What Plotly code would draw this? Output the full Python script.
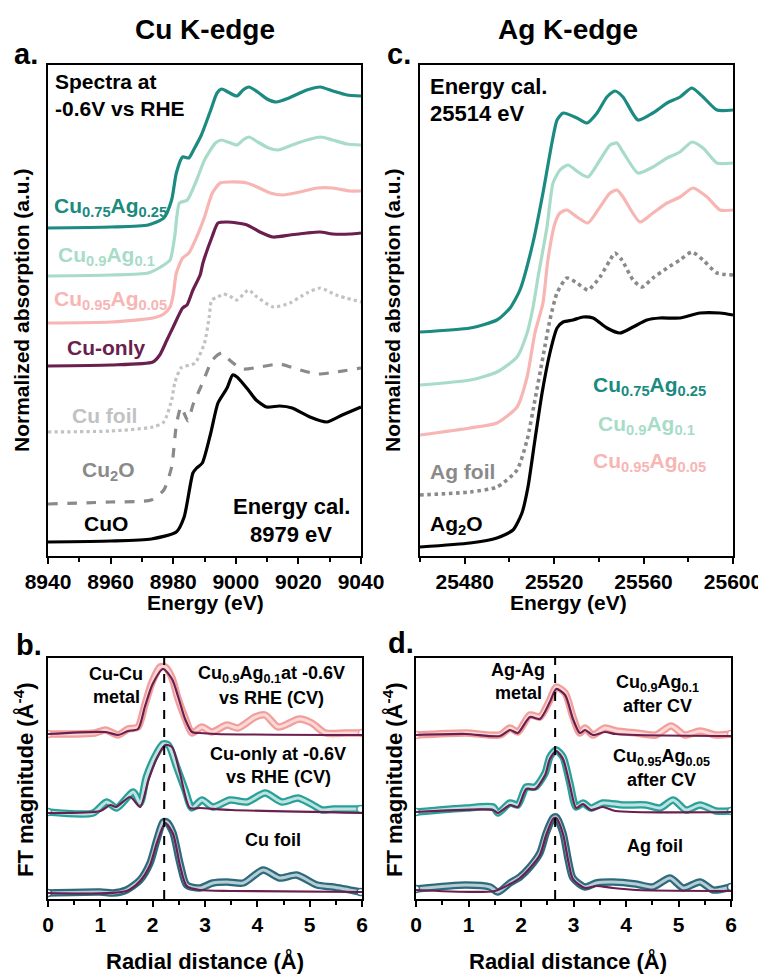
import plotly.graph_objects as go

W, H = 766, 974
OFF_X, OFF_Y = 8, 8  # page margin in front of the figure

# ---------------- Panel a: Cu K-edge XANES ----------------
cuag025_E = [8940, 8960, 8972, 8977, 8979.5, 8981, 8983, 8985, 8986.5, 8989, 8992, 8994, 8995.5, 8997.5, 9000.4, 9002.3, 9004.2, 9007, 9010, 9013, 9017, 9022.7, 9027, 9031, 9035.5, 9040]
cuag025_mu = [32.8, 32.9, 33.1, 33.8, 35.6, 38.3, 39.9, 39.8, 40.6, 42.1, 44.6, 46.3, 46.7, 46.4, 46.0, 46.6, 46.9, 46.4, 45.7, 45.4, 45.8, 46.6, 46.9, 46.5, 46.1, 46.0]

cuag01_E = [8940, 8960, 8972, 8976, 8979, 8980.5, 8982, 8984.5, 8987.5, 8990, 8993.5, 8995.5, 8997.5, 9000.4, 9002.3, 9004.2, 9007, 9010.5, 9013.5, 9018, 9022.7, 9027, 9031, 9035.5, 9040]
cuag01_mu = [28.0, 28.1, 28.3, 28.9, 29.6, 32.0, 35.3, 35.6, 37.6, 39.6, 41.3, 41.6, 41.4, 41.1, 41.6, 41.9, 41.4, 40.8, 40.6, 41.1, 41.6, 41.9, 41.6, 41.2, 41.1]

cuag005_E = [8940, 8960, 8973.5, 8977, 8979, 8980, 8981, 8983, 8985, 8987.5, 8990, 8992.5, 8995, 8998, 9003.5, 9006.8, 9011, 9015, 9020.5, 9026, 9031, 9036.5, 9040]
cuag005_mu = [23.3, 23.4, 23.8, 24.2, 24.9, 26.1, 28.3, 29.8, 30.3, 31.9, 33.9, 36.3, 37.3, 37.4, 37.3, 36.9, 36.3, 36.1, 36.4, 36.8, 36.8, 36.5, 36.5]

cuonly_E = [8940, 8960, 8973.5, 8975.7, 8978, 8980, 8983, 8984.4, 8986.3, 8988.6, 8989.5, 8992.4, 8994.3, 8997.2, 9000.4, 9003.6, 9007.7, 9011.9, 9017.3, 9022.7, 9026.9, 9031, 9036.5, 9040]
cuonly_mu = [19.0, 19.1, 19.4, 20.1, 21.6, 22.9, 24.8, 25.1, 26.6, 28.1, 29.3, 31.9, 33.3, 33.4, 33.3, 33.1, 32.4, 31.9, 32.1, 32.3, 32.4, 32.2, 32.2, 32.3]

cufoil_E = [8940, 8960, 8973.5, 8977, 8979.5, 8980.5, 8982.5, 8987, 8990, 8991.5, 8992.3, 8994.3, 8996, 8998, 9000.4, 9004, 9006.8, 9012, 9017.3, 9022.7, 9027, 9032, 9040]
cufoil_mu = [12.4, 12.5, 12.9, 13.4, 15.6, 17.3, 18.8, 19.3, 21.3, 23.9, 25.6, 25.9, 26.2, 26.0, 25.6, 26.6, 25.9, 24.9, 25.3, 26.3, 26.8, 26.1, 25.4]

cu2o_E = [8940, 8960, 8973, 8977, 8979.5, 8981, 8982.5, 8984.7, 8986.3, 8989.5, 8992.5, 8995.5, 8998, 9002, 9007.7, 9014, 9019.5, 9026, 9032, 9040]
cu2o_mu = [5.2, 5.4, 5.6, 6.6, 8.9, 13.1, 14.9, 13.5, 15.1, 17.4, 19.6, 20.3, 19.6, 18.7, 18.9, 19.2, 18.7, 18.2, 18.4, 18.8]

cuo_E = [8940, 8960, 8973, 8981, 8983.5, 8986.3, 8987.5, 8989.3, 8992, 8994.3, 8997.2, 8999, 9000.4, 9004, 9006.5, 9009.8, 9014, 9018, 9023.7, 9029, 9034, 9040]
cuo_mu = [1.4, 1.5, 1.7, 2.4, 3.9, 8.3, 8.8, 9.3, 12.3, 15.3, 16.8, 18.1, 17.9, 16.6, 15.6, 14.9, 15.0, 14.8, 13.9, 13.4, 14.1, 14.9]

# ---------------- Panel c: Ag K-edge XANES ----------------
ag_cuag025_E = [25460, 25482.4, 25494.4, 25500.3, 25504.7, 25510.5, 25515, 25519, 25521.3, 25524, 25530.2, 25534.7, 25539.2, 25543.6, 25547.2, 25550.8, 25557.5, 25564.2, 25570.5, 25576.3, 25581.6, 25586.6, 25592.8, 25600]
ag_cuag025_mu = [22.4, 22.8, 23.6, 24.8, 26.6, 31.3, 36.3, 41.3, 43.6, 44.3, 43.8, 43.3, 44.3, 45.9, 46.5, 45.9, 43.6, 44.3, 45.3, 45.9, 46.8, 45.9, 44.6, 44.6]

ag_cuag01_E = [25460, 25482.4, 25494.4, 25503.4, 25507.9, 25510.5, 25512.8, 25516.8, 25519.5, 25522.6, 25526.2, 25530.7, 25535.1, 25540.5, 25545, 25548.1, 25550.8, 25557.5, 25564.2, 25570.5, 25576.3, 25581.6, 25586.6, 25592.8, 25600]
ag_cuag01_mu = [17.1, 17.6, 18.4, 19.9, 22.3, 24.8, 27.9, 32.9, 37.3, 38.6, 39.1, 38.4, 37.9, 39.6, 41.1, 41.3, 40.4, 38.3, 38.9, 39.8, 40.4, 41.4, 40.8, 39.3, 39.3]

ag_cuag005_E = [25460, 25482.4, 25494.4, 25503.4, 25507.9, 25511.4, 25515, 25517.2, 25520.4, 25522.6, 25525.7, 25530.2, 25535.1, 25540.5, 25545, 25548.1, 25550.8, 25558.4, 25564.2, 25570.5, 25576.3, 25582.1, 25588.4, 25594.2, 25600]
ag_cuag005_mu = [12.1, 12.8, 13.3, 14.9, 17.9, 22.3, 25.3, 29.6, 33.3, 34.3, 34.6, 33.9, 33.3, 34.9, 36.3, 36.6, 35.9, 33.4, 34.3, 35.3, 35.9, 36.8, 35.9, 34.6, 34.6]

agfoil_E = [25460, 25482.4, 25494.4, 25503.4, 25507.9, 25511.4, 25515, 25518.1, 25521.3, 25525.7, 25530.2, 25535.1, 25540.5, 25545, 25547.2, 25550.3, 25555.3, 25559.3, 25564.2, 25570.5, 25576.3, 25581.6, 25586.6, 25592.8, 25600]
agfoil_mu = [6.1, 6.4, 6.9, 8.6, 11.6, 15.6, 19.9, 23.6, 26.3, 27.8, 27.3, 26.6, 27.9, 29.6, 30.3, 29.6, 27.6, 26.9, 27.8, 28.8, 29.6, 30.4, 29.6, 28.3, 28.1]

ag2o_E = [25460, 25482.4, 25494.4, 25501.6, 25505.6, 25508.3, 25511.4, 25514.6, 25518.1, 25521.3, 25524, 25528.4, 25532.9, 25537.4, 25543.6, 25549.4, 25555.3, 25561.5, 25567.3, 25576.3, 25585.2, 25594.2, 25600]
ag2o_mu = [0.9, 1.3, 1.8, 2.6, 4.3, 6.9, 11.6, 16.3, 20.3, 22.8, 23.4, 23.6, 23.9, 23.8, 22.8, 22.3, 22.9, 23.6, 23.8, 23.8, 24.3, 24.3, 24.1]

# ---------------- Panel b: Cu K-edge FT-EXAFS ----------------
b_top_r = [0, 0.5, 0.9, 1.1, 1.34, 1.53, 1.72, 1.85, 1.99, 2.14, 2.24, 2.37, 2.48, 2.62, 2.75, 2.94, 3.13, 3.42, 3.63, 3.96, 4.15, 4.4, 4.8, 5.04, 5.3, 5.68, 6.0]
b_top_ft = [16.5, 16.5, 16.6, 16.9, 16.4, 17.0, 17.2, 19.4, 21.7, 23.2, 23.2, 22.1, 20.1, 18.1, 16.6, 17.2, 16.7, 17.4, 17.1, 18.2, 18.4, 17.2, 18.0, 17.6, 16.6, 16.6, 16.6]
b_top_fit_r = [0, 1.1, 1.34, 1.53, 1.72, 1.85, 2.0, 2.2, 2.37, 2.5, 2.62, 2.75, 2.9, 3.2, 6.0]
b_top_fit = [16.5, 16.7, 16.4, 16.8, 17.0, 19.2, 21.5, 23.0, 22.0, 20.0, 18.0, 16.7, 16.6, 16.5, 16.4]

b_mid_r = [0, 0.86, 1.12, 1.31, 1.63, 1.76, 1.88, 2.08, 2.2, 2.3, 2.46, 2.62, 2.75, 2.94, 3.15, 3.48, 3.8, 4.15, 4.47, 4.78, 5.06, 5.24, 5.45, 5.97]
b_mid_ft = [8.7, 8.6, 9.7, 9.1, 10.7, 9.6, 12.2, 14.6, 15.5, 15.4, 13.2, 10.9, 9.1, 9.9, 9.2, 9.9, 9.7, 10.6, 9.7, 10.1, 9.4, 8.9, 9.0, 9.0]
b_mid_fit_r = [0, 1.0, 1.19, 1.3, 1.57, 1.76, 1.92, 2.08, 2.24, 2.37, 2.52, 2.71, 2.9, 3.5, 6.0]
b_mid_fit = [8.6, 8.8, 9.4, 9.2, 10.2, 9.2, 11.9, 14.1, 15.4, 15.2, 12.6, 9.1, 9.1, 8.9, 8.6]

b_bot_r = [0, 1.0, 1.24, 1.5, 1.76, 1.95, 2.08, 2.2, 2.27, 2.39, 2.52, 2.65, 2.9, 3.15, 3.42, 3.73, 4.11, 4.43, 4.75, 5.14, 5.45, 5.97]
b_bot_ft = [0.6, 0.7, 0.6, 0.9, 1.9, 3.6, 5.9, 7.7, 7.7, 6.6, 3.6, 1.4, 1.1, 1.6, 1.7, 1.6, 2.9, 2.1, 2.4, 1.4, 1.2, 0.7]
b_bot_fit_r = [0, 1.5, 1.76, 1.95, 2.08, 2.24, 2.39, 2.52, 2.65, 2.9, 3.5, 6.0]
b_bot_fit = [0.6, 0.8, 1.8, 3.4, 5.6, 7.6, 6.5, 3.4, 1.3, 0.9, 0.8, 0.7]

cu_cu_r = 2.22

# ---------------- Panel d: Ag K-edge FT-EXAFS ----------------
d_top_r = [0, 0.95, 1.6, 1.79, 1.94, 2.17, 2.36, 2.55, 2.67, 2.84, 2.99, 3.12, 3.22, 3.37, 3.6, 3.81, 4.19, 4.57, 4.86, 5.12, 5.41, 5.71, 6.0]
d_top_ft = [16.4, 16.6, 16.4, 17.1, 16.7, 18.4, 18.2, 19.9, 21.2, 20.6, 18.2, 16.6, 17.1, 16.4, 17.1, 16.8, 16.6, 16.4, 17.3, 16.4, 16.8, 16.4, 16.5]
d_top_fit_r = [0, 0.95, 1.6, 1.79, 1.94, 2.17, 2.36, 2.55, 2.67, 2.84, 2.99, 3.12, 3.22, 3.37, 3.6, 3.8, 4.2, 6.0]
d_top_fit = [16.4, 16.5, 16.3, 16.9, 16.6, 18.2, 18.0, 19.7, 21.0, 20.4, 18.0, 16.6, 16.9, 16.4, 16.7, 16.5, 16.4, 16.3]

d_mid_r = [0, 0.95, 1.47, 1.56, 1.79, 1.94, 2.1, 2.27, 2.46, 2.55, 2.67, 2.8, 2.93, 3.05, 3.18, 3.33, 3.56, 3.94, 4.38, 4.65, 4.9, 5.14, 5.41, 5.71, 6.0]
d_mid_ft = [8.7, 9.1, 9.2, 8.6, 9.6, 9.4, 11.2, 11.2, 12.6, 14.2, 14.9, 14.2, 11.6, 9.2, 9.6, 9.1, 9.6, 9.4, 9.4, 9.1, 9.9, 8.9, 9.4, 8.8, 8.8]
d_mid_fit_r = [0, 1.47, 1.56, 1.79, 1.94, 2.1, 2.27, 2.46, 2.55, 2.67, 2.8, 2.93, 3.05, 3.18, 3.33, 3.56, 3.8, 6.0]
d_mid_fit = [8.7, 8.9, 8.6, 9.4, 9.2, 11.0, 11.0, 12.4, 14.0, 14.8, 14.0, 11.4, 9.1, 9.5, 8.9, 9.2, 8.8, 8.7]

d_bot_r = [0, 0.95, 1.41, 1.56, 1.79, 1.98, 2.17, 2.36, 2.48, 2.61, 2.67, 2.8, 2.9, 2.99, 3.22, 3.43, 3.75, 4.19, 4.51, 4.84, 5.09, 5.41, 5.66, 6.0]
d_bot_ft = [1.0, 1.4, 1.2, 0.7, 1.6, 2.2, 3.2, 4.6, 6.6, 8.1, 8.2, 6.6, 3.9, 2.1, 1.2, 1.6, 1.7, 1.5, 1.2, 2.1, 1.1, 1.7, 0.9, 1.2]
d_bot_fit_r = [0, 1.5, 1.79, 1.98, 2.17, 2.36, 2.48, 2.61, 2.67, 2.8, 2.9, 2.99, 3.22, 3.43, 3.75, 4.2, 6.0]
d_bot_fit = [0.9, 0.8, 1.5, 2.1, 3.1, 4.4, 6.4, 8.0, 8.1, 6.5, 3.8, 2.0, 1.1, 1.3, 1.1, 0.9, 0.8]

ag_ag_r = 2.65

# ---------------- styling ----------------
TEAL = "#1b8a80"
MINT = "#a8dcc8"
PINK = "#f7b5b3"
PURPLE = "#6a1f4e"
LGRAY = "#c2c2c2"
MGRAY = "#8a8a8a"
FT_PINK = ("#f29e9b", "#fbd9d8")
FT_TEAL = ("#2aa09a", "#bfe3e0")
FT_DTEAL = ("#2d6a7d", "#b6cdd3")
FONT = "Liberation Sans"

fig = go.Figure()


def xanes(x, y, color, axis, dash="solid", width=3.2):
    fig.add_trace(go.Scatter(
        x=x, y=y, mode="lines", xaxis="x" + axis, yaxis="y" + axis,
        line=dict(color=color, width=width, dash=dash, shape="spline", smoothing=0.6),
        showlegend=False, hoverinfo="skip"))


xanes(cuo_E, cuo_mu, "black", "")
xanes(cu2o_E, cu2o_mu, MGRAY, "", dash="dash")
xanes(cufoil_E, cufoil_mu, LGRAY, "", dash="dot")
xanes(cuonly_E, cuonly_mu, PURPLE, "")
xanes(cuag005_E, cuag005_mu, PINK, "")
xanes(cuag01_E, cuag01_mu, MINT, "")
xanes(cuag025_E, cuag025_mu, TEAL, "")

xanes(ag2o_E, ag2o_mu, "black", "2")
xanes(agfoil_E, agfoil_mu, MGRAY, "2", dash="dot", width=3.6)
xanes(ag_cuag005_E, ag_cuag005_mu, PINK, "2")
xanes(ag_cuag01_E, ag_cuag01_mu, MINT, "2")
xanes(ag_cuag025_E, ag_cuag025_mu, TEAL, "2")


def ft(r, y, rf, yf, colors, axis):
    dark, light = colors
    # measured data: drawn as a band of open circles
    fig.add_trace(go.Scatter(
        x=r, y=y, mode="lines", xaxis="x" + axis, yaxis="y" + axis,
        line=dict(color=dark, width=7.5, shape="spline", smoothing=0.7),
        showlegend=False, hoverinfo="skip"))
    fig.add_trace(go.Scatter(
        x=r, y=y, mode="lines", xaxis="x" + axis, yaxis="y" + axis,
        line=dict(color=light, width=3, shape="spline", smoothing=0.7),
        showlegend=False, hoverinfo="skip"))
    fig.add_trace(go.Scatter(
        x=[r[0], r[-1]], y=[y[0], y[-1]], mode="markers", xaxis="x" + axis, yaxis="y" + axis,
        marker=dict(symbol="circle", size=7, color="white", line=dict(width=1.5, color=dark)),
        showlegend=False, hoverinfo="skip"))
    # fit
    fig.add_trace(go.Scatter(
        x=rf, y=yf, mode="lines", xaxis="x" + axis, yaxis="y" + axis,
        line=dict(color=PURPLE, width=2.2, shape="spline", smoothing=0.7),
        showlegend=False, hoverinfo="skip"))


ft(b_top_r, b_top_ft, b_top_fit_r, b_top_fit, FT_PINK, "3")
ft(b_mid_r, b_mid_ft, b_mid_fit_r, b_mid_fit, FT_TEAL, "3")
ft(b_bot_r, b_bot_ft, b_bot_fit_r, b_bot_fit, FT_DTEAL, "3")
ft(d_top_r, d_top_ft, d_top_fit_r, d_top_fit, FT_PINK, "4")
ft(d_mid_r, d_mid_ft, d_mid_fit_r, d_mid_fit, FT_TEAL, "4")
ft(d_bot_r, d_bot_ft, d_bot_fit_r, d_bot_fit, FT_DTEAL, "4")

for xv, ax in ((cu_cu_r, "3"), (ag_ag_r, "4")):
    fig.add_shape(type="line", xref="x" + ax, yref="y" + ax + " domain",
                  x0=xv, x1=xv, y0=0, y1=1,
                  line=dict(color="black", width=2, dash="dash"))


def fx(px):
    return (px - OFF_X) / W


def fy(py):
    return 1 - (py - OFF_Y) / H


def dom_x(a, b):
    return [fx(a), fx(b)]


def dom_y(top, bot):
    return [fy(bot), fy(top)]


tickfont = dict(family=FONT, size=21, color="black", weight="bold")
common_x = dict(showline=True, linecolor="black", linewidth=2, mirror=True,
                ticks="outside", ticklen=6, tickwidth=2, tickcolor="black",
                tickfont=tickfont, showgrid=False, zeroline=False, automargin=False,
                tickformat="d")
common_y = dict(showline=True, linecolor="black", linewidth=2, mirror=True,
                ticks="", showticklabels=False, showgrid=False, zeroline=False, automargin=False)

minor = dict(ticks="outside", ticklen=3.5, tickwidth=2, tickcolor="black", showgrid=False)

fig.update_layout(
    width=W, height=H, margin=dict(l=0, r=0, t=0, b=0, pad=0, autoexpand=False),
    paper_bgcolor="white", plot_bgcolor="white",
    font=dict(family=FONT, color="black"),
    xaxis=dict(common_x, domain=dom_x(48, 361), anchor="y", range=[8940, 9040],
               tick0=8940, dtick=20, minor=dict(minor, dtick=10)),
    yaxis=dict(common_y, domain=dom_y(65, 556), anchor="x", range=[0, 49.1]),
    xaxis2=dict(common_x, domain=dom_x(420, 733), anchor="y2", range=[25460, 25600],
                tick0=25480, dtick=40, minor=dict(minor, tick0=25460, dtick=20)),
    yaxis2=dict(common_y, domain=dom_y(65, 556), anchor="x2", range=[0, 49.1]),
    xaxis3=dict(common_x, domain=dom_x(48, 362), anchor="y3", range=[0, 6],
                tick0=0, dtick=1, minor=dict(minor, dtick=0.5)),
    yaxis3=dict(common_y, domain=dom_y(658, 899), anchor="x3", range=[0, 24.1]),
    xaxis4=dict(common_x, domain=dom_x(416, 731), anchor="y4", range=[0, 6],
                tick0=0, dtick=1, minor=dict(minor, dtick=0.5)),
    yaxis4=dict(common_y, domain=dom_y(658, 899), anchor="x4", range=[0, 24.1]),
)

annots = []


def txt(text, x, y, size=20, color="black", xanchor="left", angle=0):
    annots.append(dict(text=text, x=fx(x), y=fy(y), xref="paper", yref="paper",
                       xanchor=xanchor, yanchor="middle", showarrow=False, textangle=angle,
                       font=dict(family=FONT, size=size, color=color, weight="bold"), align="center"))


# titles and panel letters
txt("Cu K-edge", 205, 30, size=28, xanchor="center")
txt("Ag K-edge", 568, 30, size=28, xanchor="center")
txt("a.", 12, 54, size=29)
txt("c.", 385, 54, size=29)
txt("b.", 14, 645, size=29)
txt("d.", 386, 643, size=29)

# axis titles
txt("Energy (eV)", 205, 602, size=21, xanchor="center")
txt("Energy (eV)", 568, 602, size=21, xanchor="center")
txt("Radial distance (Å)", 205, 961, size=22, xanchor="center")
txt("Radial distance (Å)", 568, 961, size=22, xanchor="center")
txt("Normalized absorption (a.u.)", 21, 310, size=21, xanchor="center", angle=-90)
txt("Normalized absorption (a.u.)", 392, 310, size=21, xanchor="center", angle=-90)
txt("FT magnitude (Å<sup>-4</sup>)", 24, 780, size=22, xanchor="center", angle=-90)
txt("FT magnitude (Å<sup>-4</sup>)", 393, 780, size=22, xanchor="center", angle=-90)

# panel a labels
txt("Spectra at", 53, 82, size=21)
txt("-0.6V vs RHE", 53, 109, size=21)
txt("Cu<sub>0.75</sub>Ag<sub>0.25</sub>", 52, 207, size=21, color=TEAL)
txt("Cu<sub>0.9</sub>Ag<sub>0.1</sub>", 56, 256, size=21, color=MINT)
txt("Cu<sub>0.95</sub>Ag<sub>0.05</sub>", 52, 300, size=21, color=PINK)
txt("Cu-only", 65, 347, size=21, color=PURPLE)
txt("Cu foil", 70, 415, size=21, color=LGRAY)
txt("Cu<sub>2</sub>O", 80, 471, size=21, color=MGRAY)
txt("CuO", 82, 523, size=21)
txt("Energy cal.", 291, 506, size=22, xanchor="center")
txt("8979 eV", 291, 534, size=22, xanchor="center")

# panel c labels
txt("Energy cal.", 428, 86, size=22)
txt("25514 eV", 428, 113, size=22)
txt("Cu<sub>0.75</sub>Ag<sub>0.25</sub>", 591, 386, size=21, color=TEAL)
txt("Cu<sub>0.9</sub>Ag<sub>0.1</sub>", 596, 425, size=21, color=MINT)
txt("Cu<sub>0.95</sub>Ag<sub>0.05</sub>", 591, 462, size=21, color=PINK)
txt("Ag foil", 428, 471, size=21, color=MGRAY)
txt("Ag<sub>2</sub>O", 428, 525, size=21)

# panel b labels
txt("Cu-Cu", 116, 674, size=18, xanchor="center")
txt("metal", 116, 697, size=18, xanchor="center")
txt("Cu<sub>0.9</sub>Ag<sub>0.1</sub>at -0.6V", 271, 674, size=18, xanchor="center")
txt("vs RHE (CV)", 271, 698, size=18, xanchor="center")
txt("Cu-only at -0.6V", 278, 754, size=18, xanchor="center")
txt("vs RHE (CV)", 278, 777, size=18, xanchor="center")
txt("Cu foil", 273, 840, size=18, xanchor="center")

# panel d labels
txt("Ag-Ag", 518, 670, size=18, xanchor="center")
txt("metal", 518, 693, size=18, xanchor="center")
txt("Cu<sub>0.9</sub>Ag<sub>0.1</sub>", 657, 683, size=18, xanchor="center")
txt("after CV", 657, 706, size=18, xanchor="center")
txt("Cu<sub>0.95</sub>Ag<sub>0.05</sub>", 661, 757, size=18, xanchor="center")
txt("after CV", 661, 780, size=18, xanchor="center")
txt("Ag foil", 655, 846, size=18, xanchor="center")

fig.update_layout(annotations=annots)
fig.write_html("out.html")
